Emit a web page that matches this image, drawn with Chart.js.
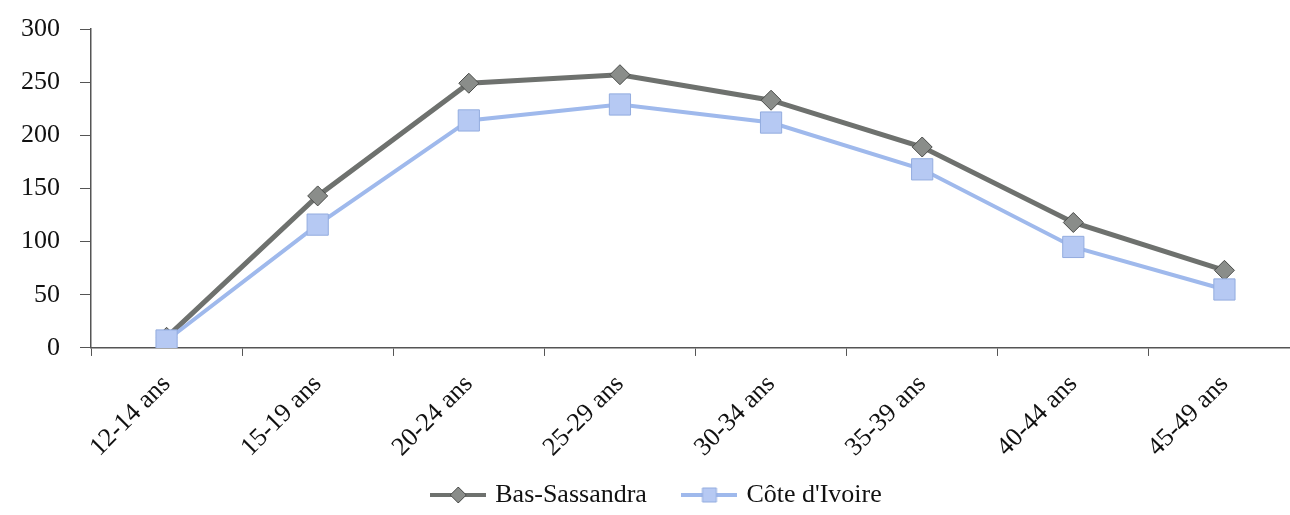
<!DOCTYPE html>
<html>
<head>
<meta charset="utf-8">
<script src="https://cdn.jsdelivr.net/npm/chart.js@4.4.1/dist/chart.umd.min.js"></script>
<style>
    html, body { margin: 0; padding: 0; background: #fff; overflow: hidden; }
    #wrap { position: relative; width: 1316px; height: 515px; }
</style>
</head>
<body>
<div id="wrap"><canvas id="chart-age"></canvas></div>
<script>
const categories = ['12-14 ans', '15-19 ans', '20-24 ans', '25-29 ans', '30-34 ans', '35-39 ans', '40-44 ans', '45-49 ans'];
const basSassandra = [10, 143, 249, 257, 233, 189, 118, 73];
const coteIvoire = [7, 116, 214, 229, 212, 168, 95, 55];
const yMax = 300;
const yStep = 50;

const GREY_LINE = '#6e716e';
const GREY_FILL = '#8a8d8a';
const GREY_EDGE = '#4a4c4a';
const BLUE_LINE = '#9fb9ec';
const BLUE_FILL = '#b6c9f3';
const BLUE_EDGE = '#93acdf';
const FONT = "'Liberation Serif', 'Times New Roman', serif";
const FONT_SIZE = 26;

// legend symbol: short line with the marker in the middle
function legendIcon(lineColor, fill, edge, shape) {
    const c = document.createElement('canvas');
    c.width = 56;
    c.height = 24;
    const ctx = c.getContext('2d');
    ctx.strokeStyle = lineColor;
    ctx.lineWidth = 4;
    ctx.beginPath();
    ctx.moveTo(0, 12);
    ctx.lineTo(56, 12);
    ctx.stroke();
    ctx.fillStyle = fill;
    ctx.strokeStyle = edge;
    ctx.lineWidth = 1;
    ctx.beginPath();
    if (shape === 'diamond') {
        ctx.moveTo(28, 4); ctx.lineTo(36, 12); ctx.lineTo(28, 20); ctx.lineTo(20, 12);
    } else {
        ctx.rect(21, 5, 14, 14);
    }
    ctx.closePath();
    ctx.fill();
    ctx.stroke();
    return c;
}

const icons = [
    legendIcon(GREY_LINE, GREY_FILL, GREY_EDGE, 'diamond'),
    legendIcon(BLUE_LINE, BLUE_FILL, BLUE_EDGE, 'square'),
];

Chart.defaults.font.family = FONT;
Chart.defaults.font.size = FONT_SIZE;
Chart.defaults.color = '#111';

new Chart(document.getElementById('chart-age'), {
    type: 'line',
    data: {
        labels: categories,
        datasets: [{
            label: 'Bas-Sassandra',
            data: basSassandra,
            borderColor: GREY_LINE,
            borderWidth: 5,
            pointStyle: 'rectRot',
            pointRadius: 10,
            pointBackgroundColor: GREY_FILL,
            pointBorderColor: GREY_EDGE,
            pointBorderWidth: 1,
            tension: 0,
            order: 2,
        }, {
            label: "Côte d'Ivoire",
            data: coteIvoire,
            borderColor: BLUE_LINE,
            borderWidth: 4,
            pointStyle: 'rect',
            pointRadius: 15,
            pointBackgroundColor: BLUE_FILL,
            pointBorderColor: BLUE_EDGE,
            pointBorderWidth: 1,
            tension: 0,
            order: 1,
        }],
    },
    options: {
        responsive: true,
        maintainAspectRatio: false,
        animation: false,
        layout: { padding: { top: 29, right: 0, bottom: -3, left: 0 } },
        plugins: {
            tooltip: { enabled: false },
            legend: {
                position: 'bottom',
                labels: {
                    usePointStyle: true,
                    pointStyleWidth: 48,
                    padding: 6,
                    font: { size: FONT_SIZE },
                    // trailing spaces keep the items apart without a tall legend box
                    generateLabels: (chart) => chart.data.datasets.map((ds, i) => ({
                        text: i < chart.data.datasets.length - 1 ? ds.label + '     ' : ds.label,
                        fillStyle: ds.borderColor,
                        strokeStyle: ds.borderColor,
                        lineWidth: 0,
                        pointStyle: icons[i],
                        hidden: !chart.isDatasetVisible(i),
                        datasetIndex: i,
                        fontColor: '#111',
                    })),
                },
            },
        },
        scales: {
            x: {
                offset: true,
                grid: {
                    offset: true,
                    drawOnChartArea: false,
                    drawTicks: true,
                    tickLength: 8,
                    color: '#555',
                },
                border: { color: '#555', width: 1.5 },
                ticks: {
                    minRotation: 45,
                    maxRotation: 45,
                    padding: 13,
                    font: { size: FONT_SIZE },
                },
            },
            y: {
                min: 0,
                max: yMax,
                afterFit: (scale) => {
                    scale.width = 91;
                    scale.paddingTop = 0;
                },
                grid: {
                    drawOnChartArea: false,
                    drawTicks: true,
                    tickLength: 11,
                    color: '#555',
                },
                border: { color: '#555', width: 1.5 },
                ticks: {
                    stepSize: yStep,
                    padding: 20,
                    font: { size: FONT_SIZE },
                },
            },
        },
    },
});
</script>
</body>
</html>
